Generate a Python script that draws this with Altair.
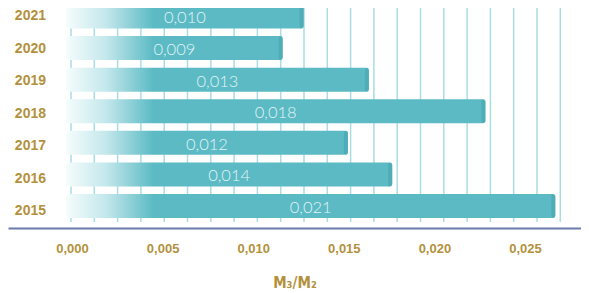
import altair as alt
import pandas as pd

years = ["2021", "2020", "2019", "2018", "2017", "2016", "2015"]
values = [0.0102, 0.0093, 0.0130, 0.0180, 0.0121, 0.0140, 0.0210]
labels = ["0,010", "0,009", "0,013", "0,018", "0,012", "0,014", "0,021"]
tick_values = [0.000, 0.005, 0.010, 0.015, 0.020, 0.025]
grid_values = [0.000, 0.001, 0.002, 0.003, 0.004, 0.005, 0.006, 0.007, 0.008,
               0.009, 0.010, 0.011, 0.012, 0.013, 0.014, 0.015, 0.016, 0.017,
               0.018, 0.019, 0.020, 0.021, 0.022]

df = pd.DataFrame({"year": years, "value": values, "label": labels})
ticks_df = pd.DataFrame({"t": tick_values})
grid_df = pd.DataFrame({"g": grid_values})

W, H = 573, 220
PX_A = 23300.0  # px per unit for bar scale
A_dom = [-58 / PX_A, -58 / PX_A + W / PX_A]
PX_B = 18120.0
B_dom = [-64 / PX_B, -64 / PX_B + W / PX_B]

GOLD = "#b3913c"
TEAL = "#5bbac4"

xA = alt.Scale(domain=A_dom, nice=False, zero=False)
yBar = alt.Scale(domain=years, range=[-7.3, 213.8], paddingInner=0.24, paddingOuter=0.12)
yLab = alt.Scale(type="point", domain=years, range=[8, 203], padding=0)

grid = alt.Chart(grid_df).mark_rule(color="#a9dde3", strokeWidth=1.5, xOffset=5).encode(
    x=alt.X("g:Q", scale=xA, axis=None),
    y=alt.value(-2), y2=alt.value(214),
)

layers = [grid]
for yr, v in zip(years, values):
    L = v * PX_A
    s = min(0.9, 88.0 / L)
    grad = alt.LinearGradient(
        gradient="linear", x1=0, x2=1, y1=0, y2=0,
        stops=[
            alt.GradientStop(offset=0, color="#f6fcfc"),
            alt.GradientStop(offset=s * 0.45, color="#c4e8ec"),
            alt.GradientStop(offset=s, color=TEAL),
            alt.GradientStop(offset=1, color=TEAL),
        ],
    )
    bar = alt.Chart(df[df.year == yr]).mark_bar(color=grad, cornerRadiusEnd=3).encode(
        x=alt.X("value:Q", scale=xA, axis=None),
        x2=alt.datum(0),
        y=alt.Y("year:N", scale=yBar, axis=None),
    )
    layers.append(bar)

cap = alt.Chart(df).mark_tick(color="#4aa8b3", thickness=4, size=24, xOffset=-2, cornerRadius=2).encode(
    x=alt.X("value:Q", scale=xA, axis=None),
    y=alt.Y("year:N", scale=yBar, axis=None),
)

bar_text = alt.Chart(df).transform_calculate(mid="datum.value / 2").mark_text(
    font="Lato", fontSize=16.5, fontWeight=300, color="#e2f5f7", dy=2
).encode(
    x=alt.X("mid:Q", scale=xA, axis=None),
    y=alt.Y("year:N", scale=yBar, axis=None),
    text="label:N",
)

year_text = alt.Chart(df).mark_text(
    font="Liberation Sans", fontSize=14, fontWeight="bold", color=GOLD, align="right", baseline="middle"
).encode(
    x=alt.value(38),
    y=alt.Y("year:N", scale=yLab, axis=None),
    text="year:N",
)

axis_layer = alt.Chart(ticks_df).mark_point(opacity=0).encode(
    x=alt.X("t:Q", scale=alt.Scale(domain=B_dom, nice=False, zero=False),
            axis=alt.Axis(orient="bottom", values=tick_values, format=".3f",
                          labelExpr="replace(datum.label, '.', ',')",
                          domainColor="#6b7bab", domainWidth=2, ticks=False, grid=False,
                          labelFont="Liberation Sans", labelFontWeight="bold", labelFontSize=13,
                          labelColor=GOLD, labelPadding=14,
                          title="M₃/M₂", titleFont="DejaVu Sans Condensed", titleFontWeight="bold",
                          titleFontSize=15, titleColor=GOLD, titlePadding=20)),
)

chart = alt.layer(*layers, cap, bar_text, year_text, axis_layer).resolve_scale(
    x="independent", y="independent"
).properties(
    width=W, height=H,
    autosize=alt.AutoSizeParams(type="none"),
    padding={"left": 0, "top": 0, "right": 0, "bottom": 65},
).configure_view(stroke=None)

chart.save("out.html", embed_options={"renderer": "svg", "actions": False})
